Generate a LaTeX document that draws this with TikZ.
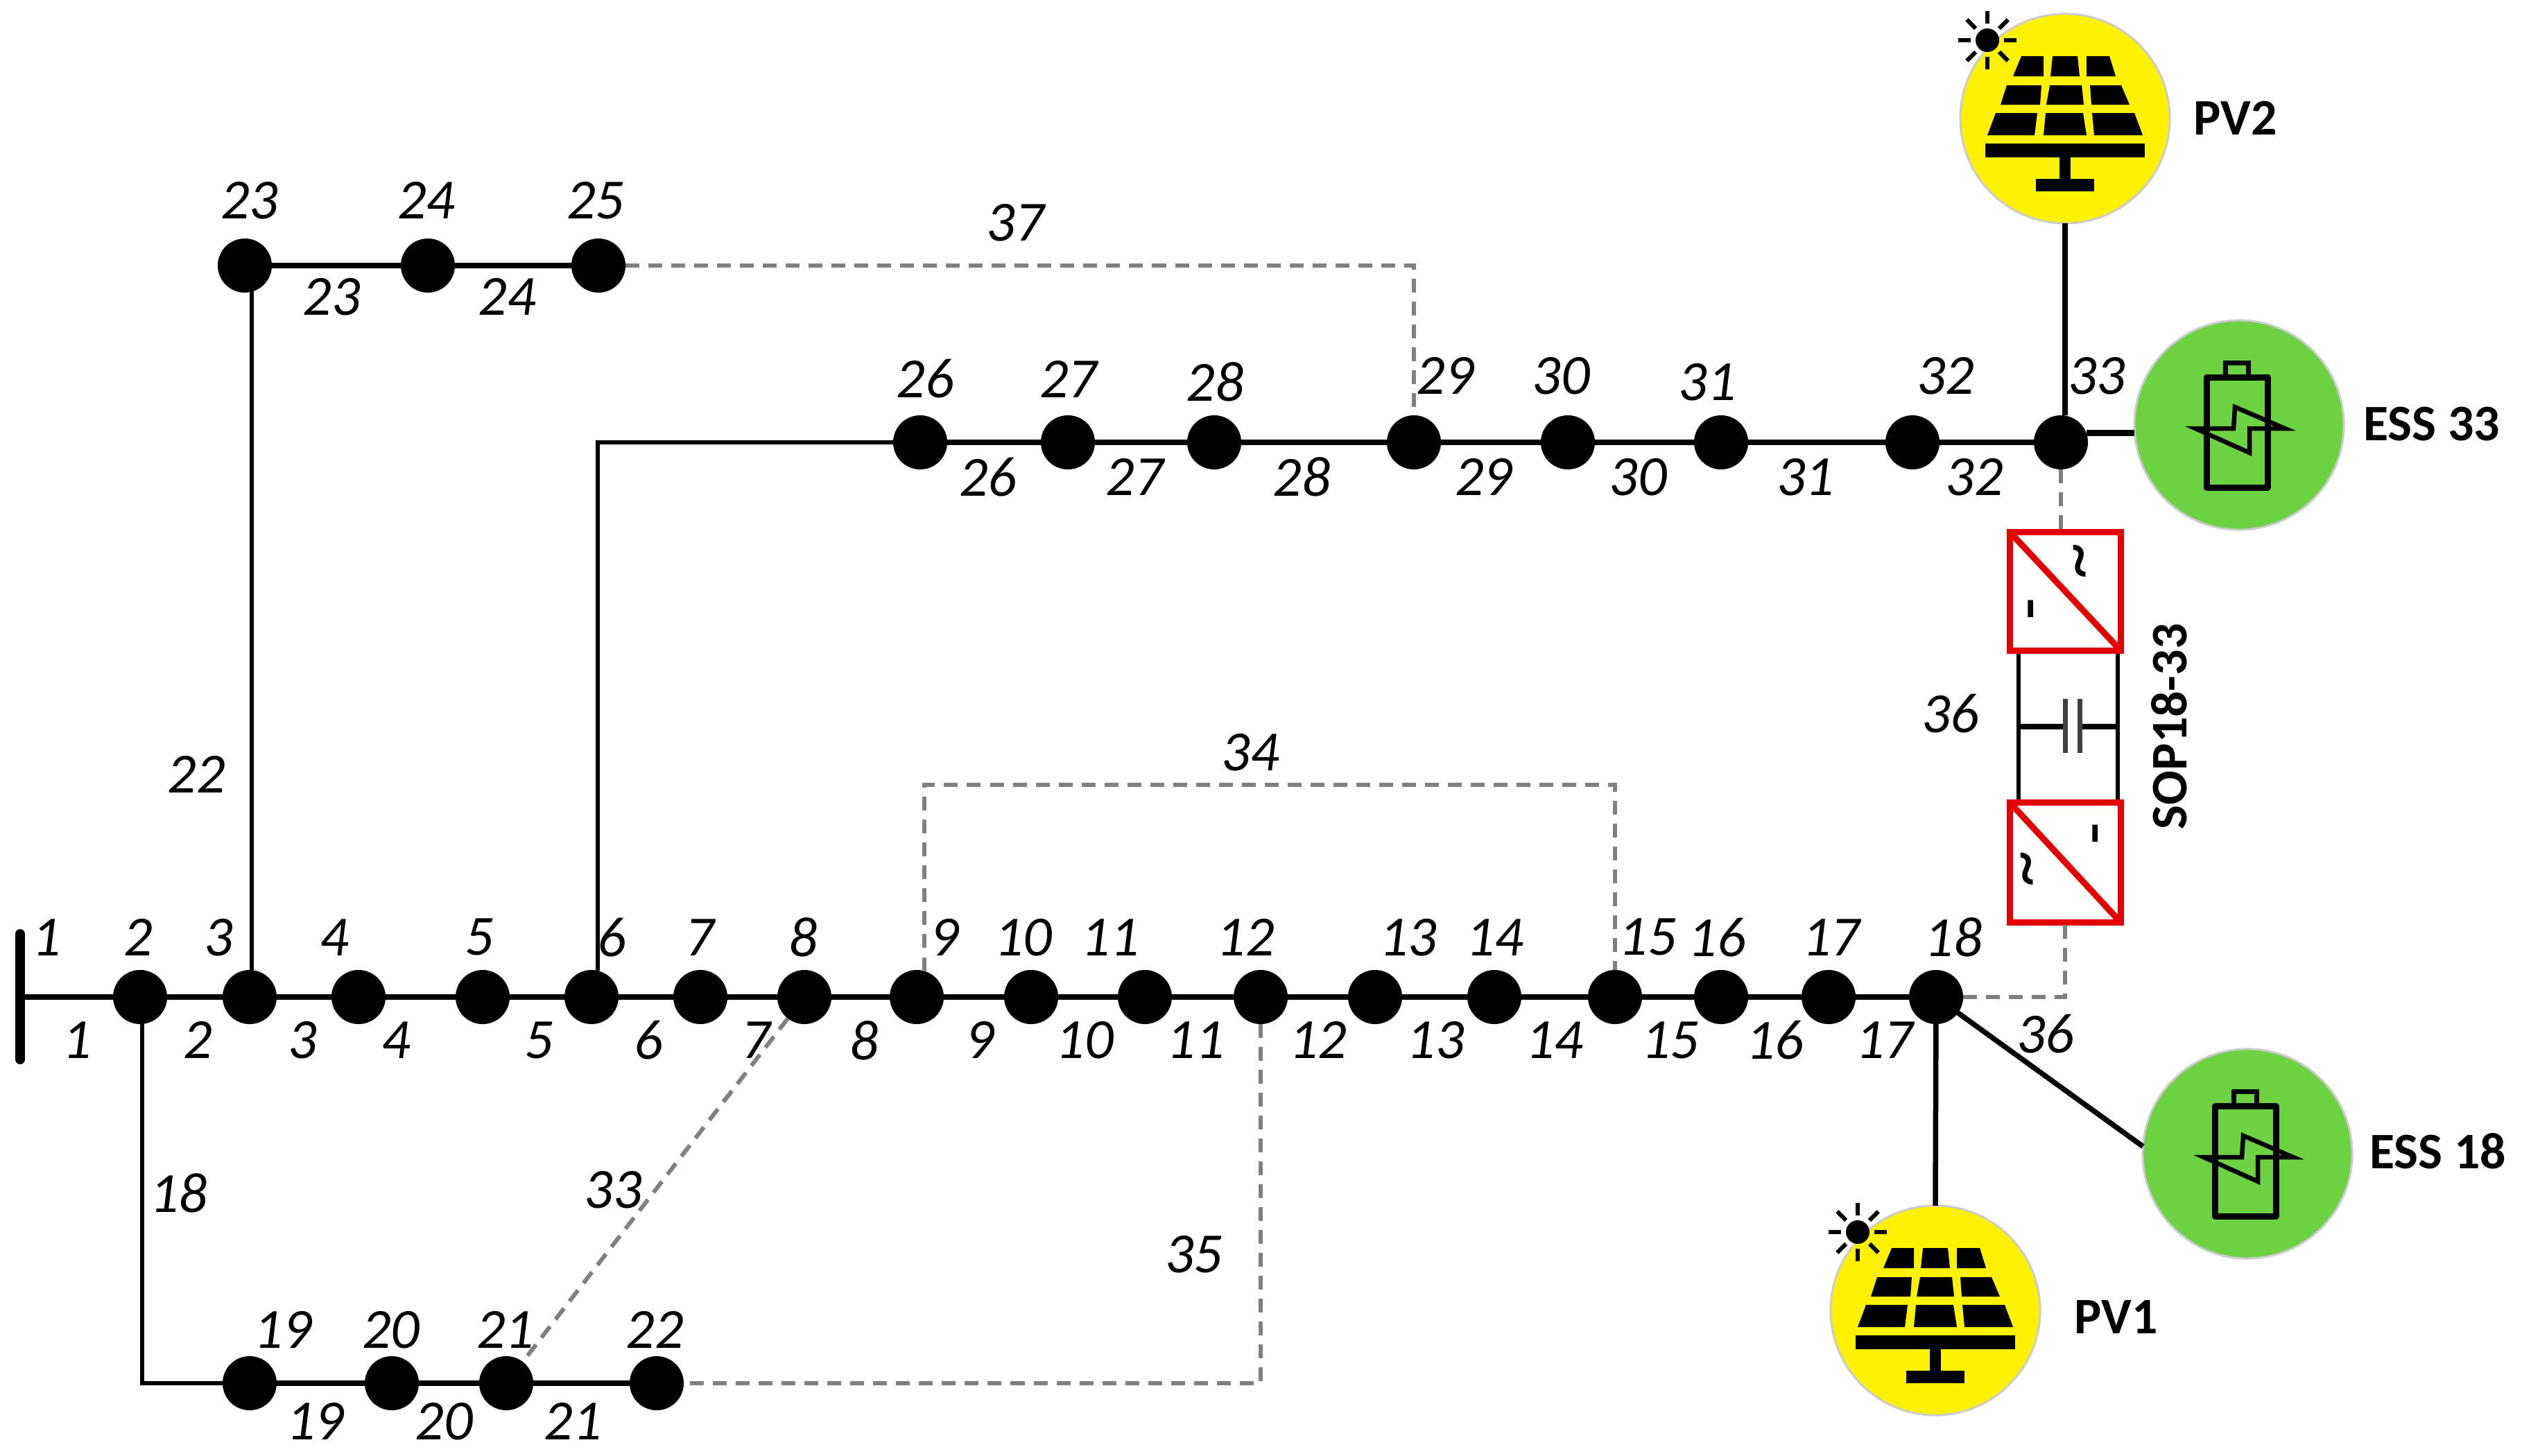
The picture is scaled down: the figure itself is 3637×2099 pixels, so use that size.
\documentclass[tikz,border=0pt]{standalone}
\usepackage{fontspec}
\setmainfont{Carlito}
\newcommand{\pvicon}[1]{%
  \begin{scope}[shift={(#1)}]
    \fill[black] (-63,-90)--(-31,-90)--(-31,-61)--(-75,-61)--cycle;
    \fill[black] (-18,-90)--(18,-90)--(21,-61)--(-21,-61)--cycle;
    \fill[black] (31,-90)--(64,-90)--(73,-61)--(31,-61)--cycle;
    \fill[black] (-84,-48)--(-34,-48)--(-36,-20)--(-93,-20)--cycle;
    \fill[black] (-22,-48)--(24,-48)--(27,-20)--(-27,-20)--cycle;
    \fill[black] (36,-48)--(81,-48)--(93,-20)--(38,-20)--cycle;
    \fill[black] (-100,-8)--(-40,-8)--(-44,24)--(-112,24)--cycle;
    \fill[black] (-28,-8)--(26,-8)--(31,24)--(-31,24)--cycle;
    \fill[black] (39,-8)--(100,-8)--(112,24)--(42,24)--cycle;
    \fill[black] (-115,36) rectangle (115,56);
    \fill[black] (-8,56) rectangle (8,87);
    \fill[black] (-42,87) rectangle (42,105);
    \fill[black] (-112,-113) circle (17);
    \foreach \a in {0,45,...,315}
      \draw[black,line width=0.06cm] (-112,-113)++(\a:24) -- ++(\a:18);
  \end{scope}}
\newcommand{\essicon}[1]{%
  \begin{scope}[shift={(#1)}]
    \draw[black,line width=0.09cm,line join=round] (-47,-69) rectangle (41,90);
    \draw[black,line width=0.07cm] (-20,-69)--(-20,-90)--(13,-90)--(13,-69);
    \draw[black,line width=0.065cm,line join=miter] (-63,5)--(-8,5)--(-6,-26)--(66,5)--(15,5)--(15,40)--cycle;
  \end{scope}}
\tikzset{
  bus/.style={circle,fill=black,draw=none,minimum size=0.78cm,inner sep=0pt,outer sep=0pt},
  mainline/.style={black,line width=0.085cm},
  thinline/.style={black,line width=0.06cm},
  tie/.style={draw=black!50,line width=0.06cm,dash pattern=on 0.2cm off 0.13cm},
  lab/.style={inner sep=0pt,font=\fontsize{23.3}{24}\selectfont\itshape},
  tag/.style={inner sep=0pt,font=\fontsize{21}{22}\selectfont\bfseries},
  disc/.style={circle,minimum size=3.02cm,inner sep=0pt,outer sep=0pt,draw=black!20,line width=0.03cm},
  conv/.style={draw=red!90!black,line width=0.09cm},
  glyph/.style={inner sep=0pt,rotate=90,font=\fontsize{30}{30}\selectfont}
}
\begin{document}
\begin{tikzpicture}[x=0.01cm,y=-0.01cm]
\useasboundingbox (0,0) rectangle (3637,2099);
% buses
\foreach \n/\x in {2/202,3/360,4/517,5/696,6/853,7/1010,8/1160,9/1322,10/1487,11/1651,12/1818,13/1983,14/2155,15/2329,16/2482,17/2637,18/2792}
  \node[bus] (n\n) at (\x,1438) {};
\foreach \n/\x in {19/360,20/565,21/730,22/947}
  \node[bus] (n\n) at (\x,1995) {};
\foreach \n/\x in {23/353,24/617,25/863}
  \node[bus] (n\n) at (\x,383) {};
\foreach \n/\x in {26/1327,27/1540,28/1751,29/2039,30/2261,31/2482,32/2758,33/2972}
  \node[bus] (n\n) at (\x,638) {};
% source bar
\coordinate (bartop) at (29,1347);
\coordinate (barbot) at (29,1528);
\coordinate (barmid) at (29,1438);
\draw[black,line width=0.14cm,line cap=round] (bartop) -- (barbot);
% discs
\node[disc,fill=yellow] (pv2) at (2978,171) {};
\node[disc,fill=yellow] (pv1) at (2791,1890) {};
\definecolor{essgreen}{RGB}{108,210,66}
\node[disc,fill=essgreen] (ess33) at (3229,613) {};
\node[disc,fill=essgreen] (ess18) at (3241,1664) {};
\pvicon{pv2}
\pvicon{pv1}
\essicon{ess33}
\essicon{ess18}
% converters
\coordinate (t1) at (2898,767); \coordinate (t2) at (3058,938);
\coordinate (b1) at (2898,1157); \coordinate (b2) at (3058,1330);
\draw[black,line width=0.055cm] (2911,938) -- (2911,1157);
\draw[black,line width=0.055cm] (3054,938) -- (3054,1157);
\coordinate (capl) at (2911,1048); \coordinate (capr) at (3054,1048);
\coordinate (p1t) at (2978,1008); \coordinate (p1b) at (2978,1086);
\coordinate (p2t) at (2999,1008); \coordinate (p2b) at (2999,1086);
\draw[black,line width=0.08cm] (capl) -- (p1t |- capl);
\draw[black,line width=0.08cm] (p2t |- capr) -- (capr);
\draw[black!75,line width=0.07cm] (p1t) -- (p1b);
\draw[black!75,line width=0.07cm] (p2t) -- (p2b);
\draw[conv] (t1) rectangle (t2); \draw[conv] (t1) -- (t2);
\draw[conv] (b1) rectangle (b2); \draw[conv] (b1) -- (b2);
\node[glyph] (gt1) at (3009,809) {\char"007E};
\node[glyph] (gt2) at (2942,878) {-};
\node[glyph] (gb1) at (3035,1202) {-};
\node[glyph] (gb2) at (2933,1253) {\char"007E};
% main feeder
\draw[mainline] (barmid) -- (n2);
\draw[mainline] (n2) -- (n3) -- (n4) -- (n5) -- (n6) -- (n7) -- (n8) -- (n9) -- (n10) -- (n11) -- (n12) -- (n13) -- (n14) -- (n15) -- (n16) -- (n17) -- (n18);
\draw[thinline] (n2.86) |- (n19);
\draw[mainline] (n19) -- (n20) -- (n21) -- (n22);
\draw[thinline] (n3.86) |- (n23);
\draw[mainline] (n23) -- (n24) -- (n25);
\draw[thinline] (n6.77) |- (n26);
\draw[mainline] (n26) -- (n27) -- (n28) -- (n29) -- (n30) -- (n31) -- (n32) -- (n33);
% DER connections
\draw[thinline,line width=0.075cm] (pv2.south) -- (pv2.south |- n33.north);
\draw[mainline] (n33.20) -- (n33.20 -| ess33.west);
\draw[thinline,line width=0.075cm] (n18) -- (pv1.north);
\draw[thinline,line width=0.075cm] (n18) -- (ess18.176);
% ties
\draw[tie] (n25) -| (n29);
\draw[tie] (n9.74) |- (2329,1132) -- (n15);
\draw[tie] (n12) |- (n22);
\draw[tie] (n8) -- (n21);
\draw[tie] (n18) -| (b2 -| pv2.south);
\draw[tie] (n33.south) -- (t1 -| n33.south);
% labels, in the coordinates of the 1568-wide view
\begin{scope}[x=0.023195cm,y=-0.023195cm,shift={(-1,-0.5)}]
\foreach \t/\x in {1/30,2/87,3/137,4/209,5/299,6/381,7/436,8/500,9/588,10/637,11/691,12/775,13/876,14/930,15/1025,16/1068,17/1139,18/1215}
  \node[lab,name=ba\t] at (\x,583) {\t};
\foreach \t/\x in {1/49,2/124,3/189,4/247,5/336,6/404,7/471,8/538,9/610,10/675,11/744,12/820,13/893,14/967,15/1039,16/1104,17/1172}
  \node[lab,name=li\t] at (\x,647) {\t};
\foreach \t/\x in {19/177,20/244,21/315,22/408}
  \node[lab,name=ba\t] at (\x,827) {\t};
\foreach \t/\x in {19/197,20/277,21/357}
  \node[lab,name=li\t] at (\x,884) {\t};
\foreach \t/\x in {23/156,24/266,25/371}
  \node[lab,name=ba\t] at (\x,125) {\t};
\foreach \t/\x in {23/207,24/316}
  \node[lab,name=li\t] at (\x,185) {\t};
\foreach \t/\x/\y in {26/576/236,27/665/236,28/756/238,29/899/234,30/971/234,31/1062/238,32/1210/234,33/1304/234}
  \node[lab,name=ba\t] at (\x,\y) {\t};
\foreach \t/\x in {26/615,27/706,28/810,29/923,30/1019,31/1123,32/1228}
  \node[lab,name=li\t] at (\x,297) {\t};
\node[lab] (li18) at (112,742) {18};
\node[lab] (li22) at (123,482) {22};
\node[lab] (li33) at (382,740) {33};
\node[lab] (li34) at (778,468) {34};
\node[lab] (li35) at (743,780) {35};
\node[lab] (li37) at (632,139) {37};
\node[lab] (li36a) at (1213,444) {36};
\node[lab] (li36b) at (1272,643) {36};
\node[tag] (tpv2) at (1390,74) {PV2};
\node[tag] (tpv1) at (1316,819) {PV1};
\node[tag] (tess33) at (1512,264) {ESS 33};
\node[tag] (tess18) at (1516,716) {ESS 18};
\node[tag,rotate=90] (tsop) at (1349,452) {SOP18-33};
\end{scope}
\end{tikzpicture}
\end{document}
